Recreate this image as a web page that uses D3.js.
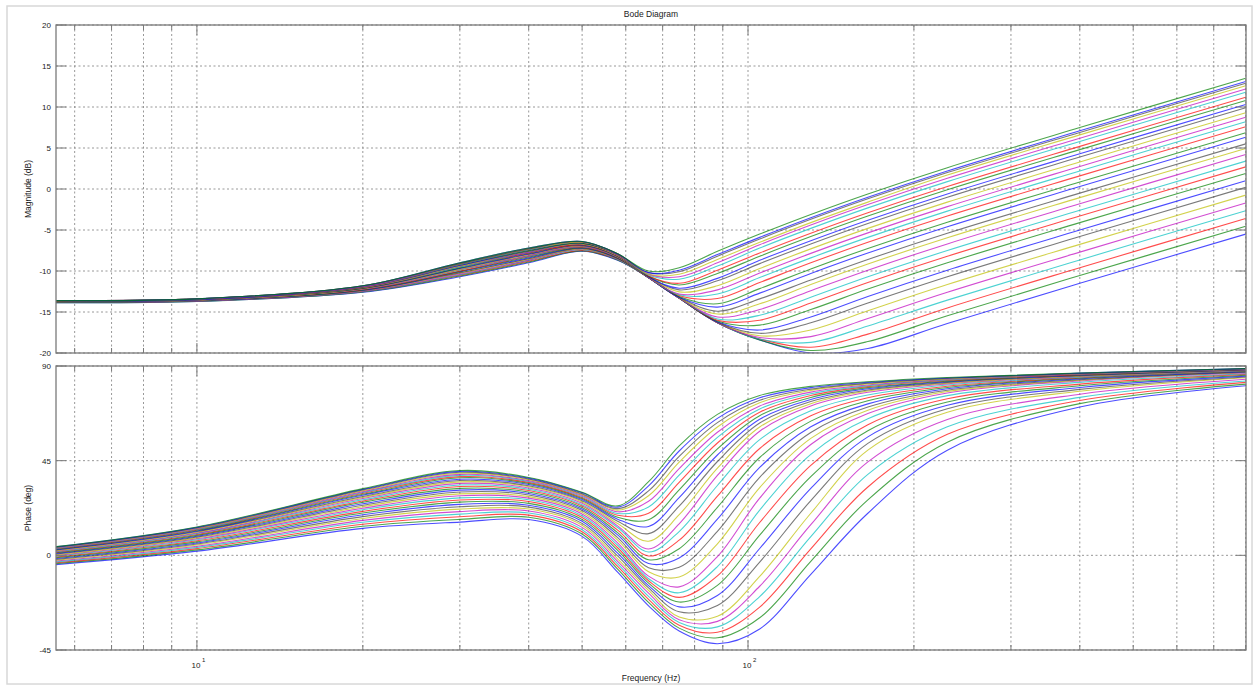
<!DOCTYPE html>
<html><head><meta charset="utf-8">
<script src="https://cdn.jsdelivr.net/npm/d3@7"></script>
<style>
html,body{margin:0;padding:0;background:#fff;}
svg{display:block;font-family:"Liberation Sans",Arial,sans-serif;}
</style></head><body>
<svg id="chart" width="1255" height="686"></svg>
<script>
// ---- data ----
const freqHz = [5.5, 10, 20, 30, 40, 50, 58, 66, 75, 88, 105, 130, 165, 230, 400, 800];

// magnitude (dB) of each response, top curve first
const magDb = [
[-13.6,-13.4,-11.8,-9.0,-7.2,-6.4,-7.9,-10.0,-9.6,-7.6,-5.5,-3.1,-0.6,2.6,7.5,13.5],
[-13.6,-13.4,-11.8,-9.0,-7.2,-6.4,-7.9,-10.2,-9.9,-8.0,-5.9,-3.5,-1.0,2.2,7.1,13.1],
[-13.6,-13.4,-11.8,-9.1,-7.3,-6.4,-7.9,-10.2,-10.1,-8.2,-6.1,-3.7,-1.2,2.0,6.9,12.9],
[-13.6,-13.4,-11.8,-9.1,-7.3,-6.5,-7.9,-10.4,-10.4,-8.6,-6.5,-4.1,-1.6,1.7,6.6,12.6],
[-13.6,-13.4,-11.9,-9.1,-7.3,-6.5,-8.0,-10.4,-10.7,-9.0,-6.8,-4.4,-1.9,1.3,6.2,12.2],
[-13.6,-13.4,-11.9,-9.2,-7.4,-6.5,-8.0,-10.5,-11.0,-9.4,-7.2,-4.8,-2.3,0.9,5.8,11.8],
[-13.6,-13.4,-11.9,-9.2,-7.4,-6.5,-8.0,-10.6,-11.5,-9.9,-7.8,-5.4,-2.9,0.3,5.2,11.2],
[-13.6,-13.4,-11.9,-9.2,-7.5,-6.6,-8.0,-10.65,-11.7,-10.3,-8.2,-5.8,-3.3,-0.1,4.8,10.8],
[-13.6,-13.5,-11.9,-9.3,-7.5,-6.6,-8.0,-10.7,-12.1,-10.9,-8.7,-6.3,-3.8,-0.6,4.3,10.3],
[-13.7,-13.5,-12.0,-9.3,-7.6,-6.6,-8.0,-10.7,-12.3,-11.2,-9.1,-6.7,-4.2,-1.0,3.9,9.9],
[-13.7,-13.5,-12.0,-9.4,-7.6,-6.7,-8.1,-10.75,-12.55,-11.8,-9.7,-7.3,-4.8,-1.6,3.3,9.3],
[-13.7,-13.5,-12.0,-9.4,-7.7,-6.7,-8.1,-10.8,-12.8,-12.3,-10.25,-7.85,-5.35,-2.15,2.75,8.75],
[-13.7,-13.5,-12.0,-9.5,-7.7,-6.7,-8.1,-10.8,-12.9,-12.8,-10.8,-8.4,-5.9,-2.7,2.2,8.2],
[-13.7,-13.5,-12.05,-9.5,-7.8,-6.8,-8.15,-10.8,-13.0,-13.35,-11.4,-9.0,-6.5,-3.3,1.6,7.6],
[-13.7,-13.5,-12.1,-9.6,-7.8,-6.8,-8.2,-10.8,-13.1,-14.0,-12.15,-9.75,-7.25,-4.05,0.85,6.85],
[-13.7,-13.5,-12.1,-9.65,-7.9,-6.85,-8.2,-10.8,-13.2,-14.4,-12.7,-10.3,-7.8,-4.6,0.3,6.3],
[-13.7,-13.5,-12.1,-9.7,-7.95,-6.9,-8.2,-10.8,-13.2,-14.9,-13.4,-11.1,-8.6,-5.4,-0.5,5.5],
[-13.7,-13.55,-12.15,-9.8,-8.0,-6.95,-8.25,-10.8,-13.25,-15.25,-14.0,-11.65,-9.15,-5.95,-1.05,4.95],
[-13.7,-13.55,-12.2,-9.85,-8.1,-7.0,-8.3,-10.8,-13.3,-15.6,-14.7,-12.4,-9.9,-6.7,-1.8,4.2],
[-13.75,-13.55,-12.2,-9.9,-8.15,-7.05,-8.3,-10.8,-13.3,-15.85,-15.4,-13.2,-10.7,-7.5,-2.6,3.4],
[-13.75,-13.55,-12.25,-10.0,-8.2,-7.1,-8.35,-10.8,-13.3,-16.0,-16.0,-13.9,-11.4,-8.2,-3.3,2.7],
[-13.75,-13.6,-12.3,-10.05,-8.3,-7.15,-8.4,-10.8,-13.3,-16.1,-16.6,-14.7,-12.2,-9.0,-4.1,1.9],
[-13.75,-13.6,-12.35,-10.1,-8.4,-7.2,-8.45,-10.8,-13.3,-16.2,-17.2,-15.6,-13.1,-9.9,-5.0,1.0],
[-13.8,-13.6,-12.35,-10.2,-8.5,-7.25,-8.45,-10.8,-13.3,-16.25,-17.6,-16.3,-13.9,-10.7,-5.8,0.2],
[-13.8,-13.6,-12.4,-10.25,-8.55,-7.3,-8.5,-10.8,-13.3,-16.25,-17.9,-17.2,-14.85,-11.65,-6.75,-0.75],
[-13.8,-13.65,-12.45,-10.35,-8.65,-7.35,-8.55,-10.8,-13.3,-16.3,-18.1,-18.0,-15.8,-12.6,-7.7,-1.7],
[-13.8,-13.65,-12.5,-10.45,-8.7,-7.4,-8.6,-10.8,-13.3,-16.3,-18.3,-18.7,-16.7,-13.55,-8.65,-2.65],
[-13.8,-13.65,-12.5,-10.5,-8.8,-7.5,-8.6,-10.8,-13.3,-16.3,-18.3,-19.3,-17.7,-14.5,-9.6,-3.6],
[-13.85,-13.7,-12.55,-10.6,-8.9,-7.55,-8.65,-10.8,-13.3,-16.3,-18.4,-19.7,-18.6,-15.45,-10.55,-4.55],
[-13.85,-13.7,-12.6,-10.7,-9.0,-7.6,-8.7,-10.8,-13.3,-16.3,-18.4,-20.0,-19.45,-16.4,-11.5,-5.5]
];

// phase (deg) of each response, same order
const phaseDeg = [
[4,13.5,31.7,40.3,37,30,23.5,35,52,67,76,80.3,82.5,84.5,86.7,88.8],
[3.9,13.3,31.4,39.9,36.7,29.7,22.9,33.0,49.6,65.1,74.9,79.7,82.2,84.3,86.6,88.75],
[3.7,13.1,31.1,39.5,36.3,29.3,22.2,30.65,47.0,63.1,73.7,79.0,81.8,84.1,86.5,88.7],
[3.6,12.9,30.7,39.0,36.0,28.9,21.5,28.3,44.3,61.0,72.5,78.4,81.5,83.9,86.35,88.6],
[3.4,12.7,30.3,38.5,35.5,28.5,20.7,25.7,41.2,58.5,71.0,77.6,81.0,83.6,86.2,88.6],
[3.2,12.4,29.9,38.0,35.1,28.0,19.9,23.0,38.1,56.1,69.6,76.8,80.6,83.4,86.1,88.5],
[3.0,12.2,29.5,37.4,34.7,27.5,19.05,20.0,34.7,53.4,68.0,75.95,80.2,83.1,85.9,88.4],
[2.8,11.9,29.0,36.9,34.2,27.0,18.1,16.95,31.1,50.6,66.4,75.05,79.7,82.8,85.7,88.35],
[2.6,11.6,28.6,36.2,33.7,26.5,17.2,13.75,27.4,47.7,64.7,74.1,79.2,82.5,85.6,88.3],
[2.4,11.3,28.0,35.6,33.1,26.0,16.2,10.3,23.4,44.6,62.9,73.1,78.6,82.2,85.4,88.2],
[2.1,11.0,27.5,34.9,32.6,25.4,15.1,6.7,19.3,41.4,61.0,72.1,78.1,81.85,85.2,88.1],
[1.9,10.6,27.0,34.2,32.0,24.75,14,3,15,38,59,71,77.5,81.5,85,88],
[1.6,10.3,26.4,33.4,31.4,24.1,13.2,1.6,11.3,33.2,55.0,68.7,76.2,81.0,84.7,87.8],
[1.35,9.9,25.8,32.7,30.8,23.45,12.0,-0.3,7.2,28.1,50.8,66.3,74.9,80.4,84.45,87.65],
[1.1,9.5,25.2,31.85,30.1,22.75,10.8,-2.1,3.15,22.8,46.5,63.8,73.5,79.8,84.2,87.5],
[0.8,9.1,24.5,31.0,29.4,22.0,9.7,-3.9,-1.25,17.2,41.8,61.1,72.0,79.2,83.9,87.3],
[0.5,8.7,23.8,30.1,28.7,21.3,8.45,-5.9,-5.7,11.4,37.1,58.4,70.5,78.5,83.5,87.1],
[0.15,8.3,23.1,29.2,27.9,20.5,7.2,-7.8,-10.3,5.5,32.2,55.6,69.0,77.85,83.2,86.9],
[-0.2,7.85,22.4,28.3,27.2,19.7,5.95,-9.9,-15.0,-0.6,27.2,52.7,67.4,77.2,82.9,86.65],
[-0.5,7.4,21.7,27.3,26.4,18.85,4.8,-11.1,-17.8,-5.35,21.5,48.0,64.9,75.9,82.2,86.3],
[-0.9,6.9,20.9,26.3,25.6,18.0,3.6,-12.1,-20.0,-9.8,15.6,42.8,62.1,74.4,81.4,86.0],
[-1.2,6.4,20.1,25.3,24.7,17.1,2.4,-13.2,-22.2,-14.3,9.6,37.4,59.25,72.9,80.6,85.6],
[-1.6,5.9,19.3,24.2,23.8,16.2,1.0,-14.4,-24.5,-19.1,3.25,31.8,56.3,71.3,79.8,85.2],
[-2.0,5.4,18.4,23.1,22.9,15.2,-0.3,-15.5,-26.85,-23.9,-3.2,26.0,53.2,69.7,78.9,84.8],
[-2.4,4.9,17.5,21.95,22.0,14.3,-1.7,-16.7,-29.3,-29,-10,20,50,68,78,84.4],
[-2.8,4.3,16.6,20.8,21.1,13.3,-2.84,-18.0,-30.6,-31.4,-14.7,14.55,44.4,64.6,76.6,83.7],
[-3.2,3.8,15.7,19.6,20.1,12.2,-4.1,-19.5,-31.9,-34.0,-19.6,8.9,38.5,61.1,75.1,82.9],
[-3.6,3.2,14.8,18.35,19.1,11.2,-5.3,-20.9,-33.2,-36.6,-24.6,3.1,32.5,57.5,73.6,82.2],
[-4.05,2.6,13.8,17.1,18.1,10.1,-6.6,-22.4,-34.6,-39.2,-29.7,-2.85,26.4,53.8,72.1,81.4],
[-4.5,2,12.8,15.8,17,9,-8,-24,-36,-42,-35,-9,20,50,70.5,80.6]
];

const magTicks = [20, 15, 10, 5, 0, -5, -10, -15, -20];
const phaseTicks = [90, 45, 0, -45];
const decadeTicks = [10, 100];
const lineColors = ["#0000ff", "#008000", "#ff0000", "#00bfbf", "#bf00bf", "#bfbf00", "#404040"];
const titleText = "Bode Diagram";
const magLabel = "Magnitude (dB)";
const phaseLabel = "Phase (deg)";
const freqLabel = "Frequency  (Hz)";

// ---- layout ----
const svg = d3.select("#chart");
const L = 56, R = 1246;
const magTop = 25, magBot = 353, phTop = 366, phBot = 650;

const x = d3.scaleLog().domain([5.55, 801]).range([L, R]);
const yMag = d3.scaleLinear().domain([-20, 20]).range([magBot, magTop]);
const yPh = d3.scaleLinear().domain([-45, 90]).range([phBot, phTop]);

// outer frame
svg.append("rect").attr("x", 7).attr("y", 6).attr("width", 1245).attr("height", 678)
  .attr("fill", "none").attr("stroke", "#d8d8d8").attr("stroke-width", 1.5);

const defs = svg.append("defs");
function clip(id, y0, y1) {
  defs.append("clipPath").attr("id", id).append("rect")
    .attr("x", L).attr("y", y0).attr("width", R - L).attr("height", y1 - y0);
}
clip("cm", magTop, magBot);
clip("cp", phTop, phBot);

const gridColor = "#8c8c8c";
const axisColor = "#7a7a7a";
const xt = x.ticks();

function panel(y, ticks, top, bot, values, clipId) {
  const g = svg.append("g");
  // grid
  g.selectAll(".vg").data(xt).join("line")
    .attr("x1", d => x(d)).attr("x2", d => x(d)).attr("y1", top).attr("y2", bot)
    .attr("stroke", gridColor).attr("stroke-width", 0.9).attr("stroke-dasharray", "2,2.5");
  g.selectAll(".hg").data(ticks).join("line")
    .attr("x1", L).attr("x2", R).attr("y1", d => y(d)).attr("y2", d => y(d))
    .attr("stroke", gridColor).attr("stroke-width", 0.9).attr("stroke-dasharray", "2,2.5");
  // curves
  const line = d3.line().x((d, i) => x(freqHz[i])).y(d => y(d)).curve(d3.curveCatmullRom.alpha(0.5));
  const cg = g.append("g").attr("clip-path", `url(#${clipId})`);
  const order = d3.range(values.length).reverse();
  order.forEach((k, j) => {
    cg.append("path").datum(values[k]).attr("d", line)
      .attr("fill", "none").attr("stroke", lineColors[j % lineColors.length])
      .attr("stroke-width", 1.1).attr("stroke-opacity", 0.7);
  });
  // ticks (inward)
  ticks.forEach(t => {
    g.append("line").attr("x1", L).attr("x2", L + 10).attr("y1", y(t)).attr("y2", y(t))
      .attr("stroke", axisColor).attr("stroke-width", 1);
    g.append("line").attr("x1", R - 10).attr("x2", R).attr("y1", y(t)).attr("y2", y(t))
      .attr("stroke", axisColor).attr("stroke-width", 1);
    g.append("text").attr("x", L - 5).attr("y", y(t) + 3).attr("text-anchor", "end")
      .attr("font-size", 8).attr("fill", "#222").text(t);
  });
  xt.forEach(t => {
    const major = decadeTicks.includes(t);
    const len = major ? 10 : 5;
    g.append("line").attr("x1", x(t)).attr("x2", x(t)).attr("y1", bot).attr("y2", bot - len)
      .attr("stroke", axisColor).attr("stroke-width", 1);
    g.append("line").attr("x1", x(t)).attr("x2", x(t)).attr("y1", top).attr("y2", top + len)
      .attr("stroke", axisColor).attr("stroke-width", 1);
  });
  // box
  g.append("rect").attr("x", L).attr("y", top).attr("width", R - L).attr("height", bot - top)
    .attr("fill", "none").attr("stroke", axisColor).attr("stroke-width", 1.3);
}

panel(yMag, magTicks, magTop, magBot, magDb, "cm");
panel(yPh, phaseTicks, phTop, phBot, phaseDeg, "cp");

// x tick labels (10^n)
decadeTicks.forEach(t => {
  const e = Math.round(Math.log10(t));
  svg.append("text").attr("x", x(t) - 1).attr("y", 668).attr("text-anchor", "middle")
    .attr("font-size", 8).attr("fill", "#222").text("10");
  svg.append("text").attr("x", x(t) + 5).attr("y", 662).attr("text-anchor", "start")
    .attr("font-size", 6).attr("fill", "#222").text(e);
});

// titles
svg.append("text").attr("x", (L + R) / 2).attr("y", 17).attr("text-anchor", "middle")
  .attr("font-size", 8.5).attr("fill", "#222").text(titleText);
svg.append("text").attr("x", (L + R) / 2).attr("y", 681).attr("text-anchor", "middle")
  .attr("font-size", 8.5).attr("fill", "#222").text(freqLabel);
svg.append("text").attr("transform", `translate(31,${(magTop + magBot) / 2}) rotate(-90)`)
  .attr("text-anchor", "middle").attr("font-size", 8.5).attr("fill", "#222").text(magLabel);
svg.append("text").attr("transform", `translate(31,${(phTop + phBot) / 2}) rotate(-90)`)
  .attr("text-anchor", "middle").attr("font-size", 8.5).attr("fill", "#222").text(phaseLabel);
</script>
</body></html>
